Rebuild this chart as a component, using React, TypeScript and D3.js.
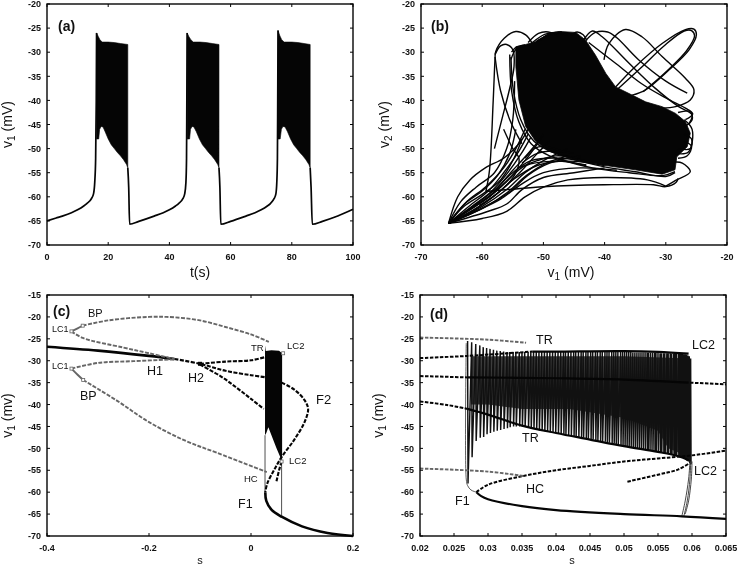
import React from "react";
import * as d3 from "d3";

type P = [number, number];

const aTicksX = [0, 20, 40, 60, 80, 100];
const vTicks50 = [-70, -65, -60, -55, -50, -45, -40, -35, -30, -25, -20];
const vTicks55 = [-70, -65, -60, -55, -50, -45, -40, -35, -30, -25, -20, -15];
const bTicksX = [-70, -60, -50, -40, -30, -20];
const cTicksX = [-0.4, -0.2, 0, 0.2];
const dTicksX = [0.02, 0.025, 0.03, 0.035, 0.04, 0.045, 0.05, 0.055, 0.06, 0.065];

// (a) membrane trace between bursts
const aQuiet: P[][] = [
  [[0, -65], [3, -64.4], [5, -64], [8, -63.3], [10, -62.7], [12, -61.9], [13, -61.4], [14.5, -60.4], [15.2, -59.4], [15.6, -57], [15.9, -52], [16.1, -40], [16.2, -26]],
  [[26.4, -54], [26.7, -58], [27, -65.7], [30, -65.1], [35, -64], [38, -63.3], [40, -62.7], [42, -61.9], [43, -61.4], [44.4, -60.4], [45, -59.4], [45.4, -57], [45.6, -52], [45.7, -40], [45.8, -26]],
  [[56.2, -54], [56.5, -58], [56.8, -65.7], [60, -65.1], [65, -64], [68, -63.3], [70, -62.7], [72, -61.9], [73, -61.4], [74.2, -60.4], [74.8, -59.4], [75.1, -57], [75.3, -52], [75.4, -40], [75.5, -25.5]],
  [[86, -54], [86.3, -58], [86.7, -65.7], [90, -65.1], [95, -64], [100, -62.6]],
];
// (a) bursts: upper and lower envelopes
const aUpper: P[][] = [
  [[16.2, -26], [16.8, -26.8], [17.3, -27.4], [18, -27.9], [20, -27.9], [22, -28], [24, -28.2], [26.4, -28.4]],
  [[45.8, -26], [46.4, -26.8], [47, -27.4], [47.8, -27.9], [50, -27.9], [52, -28], [54, -28.2], [56.2, -28.4]],
  [[75.5, -25.5], [76.1, -26.6], [76.7, -27.4], [77.5, -27.9], [80, -27.9], [82, -28], [84, -28.2], [86, -28.4]],
];
const aLower: P[][] = [
  [[16.2, -48], [16.9, -48], [17.2, -46], [17.7, -45.4], [18.3, -45.5], [19, -46.5], [20, -48], [21, -49.2], [22, -50], [23, -50.8], [24, -51.5], [25, -52.3], [26, -53.3], [26.4, -54]],
  [[45.8, -48], [46.6, -48], [46.9, -46], [47.4, -45.4], [48, -45.5], [48.8, -46.5], [49.8, -48], [50.8, -49.2], [51.8, -50], [52.8, -50.8], [53.8, -51.5], [54.8, -52.3], [55.8, -53.3], [56.2, -54]],
  [[75.5, -48], [76.2, -48], [76.6, -46], [77.1, -45.4], [77.8, -45.5], [78.6, -46.5], [79.6, -48], [80.6, -49.2], [81.6, -50], [82.6, -50.8], [83.6, -51.5], [84.6, -52.3], [85.6, -53.3], [86, -54]],
];

// (b) dense core of the phase portrait
const bCore: P[] = [[-54.5, -28.9], [-52.9, -28.4], [-51.2, -27.8], [-49.1, -26.1], [-47.4, -25.7], [-44.7, -25.9], [-43.1, -27.5], [-41.5, -30.6], [-39.8, -34.4], [-38.2, -37.2], [-35.5, -38.9], [-33.3, -40.3], [-30.6, -41.3], [-28.4, -42.7], [-26.8, -44.4], [-26, -46.8], [-26.5, -49.6], [-28.2, -51.7], [-28.5, -54.4], [-30.6, -55.3], [-35, -54.4], [-40.4, -53.4], [-45.8, -52], [-49, -50.6], [-51.3, -48.4], [-52.9, -45.4], [-54, -39.9], [-54.5, -33]];
const bFan: P[][] = [
  [[-65.5, -65.5], [-64, -60], [-62, -56.5], [-59.5, -54], [-56.5, -52], [-54, -49], [-52.5, -46]],
  [[-65.5, -65.5], [-63.5, -61], [-61, -58], [-58, -55], [-56, -50], [-55, -44], [-54.7, -36]],
  [[-65.5, -65.5], [-62.5, -61], [-59.5, -58], [-56.5, -54], [-54.5, -50], [-53, -46]],
  [[-65.5, -65.5], [-62, -61.8], [-59, -58.8], [-56.5, -55], [-54, -50.5], [-52.5, -47]],
  [[-65.5, -65.5], [-61.6, -61.9], [-58.6, -59], [-56, -55.3], [-53.6, -51], [-52, -47.5]],
  [[-65.5, -65.5], [-61, -61.5], [-57.5, -58], [-55, -54.5], [-52.5, -51], [-50.5, -48]],
  [[-65.5, -65.5], [-60.5, -61.5], [-57, -58], [-54, -54], [-51.5, -50], [-50, -47]],
  [[-65.5, -65.5], [-60.3, -61.9], [-56.7, -58.4], [-53.5, -54.5], [-51, -51], [-49, -48.5]],
  [[-65.5, -65.5], [-60, -62], [-56, -58.5], [-53, -55], [-50, -52.5], [-46, -50]],
  [[-65.5, -65.5], [-59.8, -62.3], [-55.8, -59], [-52.8, -55.6], [-49.5, -53], [-46, -51.5]],
  [[-65.5, -65.5], [-59.5, -62], [-55.5, -59], [-52.5, -55.5], [-49, -53], [-44, -51.5]],
  [[-65.5, -65.5], [-59, -63], [-56, -61.5], [-53.5, -58.5], [-50, -56], [-45, -55], [-40, -54]],
  [[-65.5, -65.5], [-60, -64.5], [-56, -63], [-53, -60], [-50, -58], [-46, -56.5], [-40, -56], [-33, -56.5], [-30, -57.8]],
  [[-65.5, -65.5], [-61, -63], [-57, -60.5], [-53.5, -57.3], [-50, -55], [-44, -54], [-38, -54.5]],
  [[-65.5, -65.5], [-61.5, -62.8], [-58, -59.8], [-55, -56.5], [-51, -53.5], [-46, -52.6], [-40, -53.5]],
  [[-65.5, -65.5], [-62, -62.5], [-58.5, -59.5], [-55.5, -55.5], [-52, -52.5], [-47, -52], [-42, -53]],
  [[-65.5, -65.5], [-62.3, -62.8], [-59, -60.2], [-56, -56.8], [-53, -53.6], [-48, -52.6], [-43, -53.4]],
  [[-65.5, -65.5], [-63, -62], [-60, -59.5], [-57, -56.5], [-54.8, -52], [-53.5, -48]],
  [[-65.5, -65.5], [-62.8, -61.4], [-60, -58.8], [-57.5, -55.6], [-55.5, -51], [-54.5, -46]],
  [[-60.5, -61.8], [-58.5, -60.2], [-56.5, -58.2], [-54.5, -55], [-54, -52], [-55, -50], [-56.5, -46]],
  [[-59.4, -58.9], [-55, -58.4], [-50, -57.9], [-40, -57.5], [-32, -57.5], [-30, -57.9], [-28.3, -57], [-28, -56.2]],
  [[-54, -54], [-51, -52.5], [-48, -51.5], [-44, -52]],
  [[-53.5, -53], [-51, -51], [-48.5, -50.5], [-45, -51]],
  [[-53, -52], [-51.5, -50], [-50, -49.5], [-47, -50.5]],
];
const bLoops: P[][] = [
  [[-59.4, -58.9], [-58.8, -54.4], [-58.2, -40], [-57.9, -31.3], [-57.8, -29.9], [-56.4, -27.1], [-54.5, -25.7], [-52.9, -26.4], [-51.8, -28.2]],
  [[-57.9, -30.5], [-57, -28.7], [-56, -28.4], [-55, -29.5], [-54.8, -33], [-55.6, -38], [-56.6, -43], [-58, -50]],
  [[-57.9, -31], [-57, -38], [-55.5, -44], [-53.5, -49]],
  [[-55.3, -31], [-54.9, -38], [-53.7, -44], [-51.5, -48.5], [-48, -51], [-42, -52.8]],
  [[-55.5, -30.5], [-55.2, -38], [-54, -44.5], [-52, -49], [-49, -51.5], [-43, -53.5]],
  [[-55.2, -30], [-54.5, -29], [-53, -28.5]],
  [[-55.3, -31.5], [-54.4, -29.3], [-53, -28.7]],
  [[-52.5, -28], [-50.8, -26.1], [-49.2, -25.8], [-47.6, -26.6]],
  [[-51.8, -28], [-49.8, -26.3], [-48, -25.9], [-46, -26.5]],
  [[-51.2, -27.8], [-49.5, -26.6], [-47, -25.9]],
  [[-50.5, -27.5], [-49, -26.2], [-47, -25.8]],
  [[-45.5, -26.5], [-44.5, -25.8], [-43.5, -26.4], [-42.9, -27.6]],
  [[-38.2, -37.2], [-35, -33], [-30.6, -28.2], [-26.8, -25.3], [-25.4, -25.2], [-25, -26.4], [-26.2, -29.5], [-29.5, -33.7], [-33.3, -37.8], [-35.5, -38.9]],
  [[-37.8, -37.6], [-34.1, -33.3], [-30.3, -28.7], [-27, -25.6], [-25.8, -25.5], [-25.3, -26.6], [-26.6, -29.7], [-29.9, -34], [-33.7, -38.2]],
  [[-40.1, -31.6], [-39.3, -28.2], [-36.6, -25.3], [-33.9, -26.8], [-30.6, -30.9], [-26.8, -35.4], [-25.4, -37.8], [-26, -39.9], [-28.4, -41.3], [-30.6, -41.6]],
  [[-43.6, -27.8], [-42, -25.6], [-40.4, -26.8], [-36, -32.3], [-31.7, -37.5], [-27.9, -41.3], [-25.7, -43], [-26.2, -44.8]],
  [[-43, -27.5], [-41.5, -25.9], [-39.5, -25.8], [-38, -27], [-34.5, -31.5], [-30, -36], [-26.5, -38.5]],
  [[-42.6, -28], [-38, -32.5], [-34, -36.5], [-30, -39.5], [-26.5, -41.8], [-25.6, -42.8], [-26.8, -44]],
  [[-28, -42.5], [-26, -42.3], [-25.7, -44], [-27, -45.5]],
  [[-28, -50], [-26, -50], [-25.8, -48], [-27, -47]],
  [[-28, -52], [-26.5, -51.5], [-25.8, -49.5], [-27, -48.5]],
  [[-28.5, -51], [-26.3, -50.7], [-25.7, -46], [-27, -44]],
  [[-30, -57.8], [-28.4, -56.6], [-26, -54.8], [-27.3, -53], [-28.5, -52.8]],
  [[-45, -52.3], [-40, -53.8], [-35, -54.8], [-30, -55.8], [-28.5, -55]],
  [[-48, -52], [-42, -54], [-36, -55], [-30.5, -55.6], [-28.5, -54.8]],
];

// (c) continuation branches
const cStable: P[][] = [
  [[-0.4, -26.8], [-0.3, -27.7], [-0.2, -28.9], [-0.15, -29.6]],
  [[0.028, -60], [0.03, -62], [0.04, -64], [0.06, -65.6], [0.1, -67.8], [0.15, -69.3], [0.2, -70]],
];
const cUnstable: P[][] = [
  [[-0.1, -30.7], [-0.05, -30.2], [0, -29.9], [0.03, -29.1]],
  [[-0.15, -29.6], [-0.1, -30.7], [-0.05, -32.3], [0, -33.3], [0.03, -33.8]],
  [[0.06, -35], [0.085, -36.6], [0.105, -39], [0.112, -41], [0.105, -44], [0.085, -48], [0.06, -52], [0.045, -55], [0.032, -58], [0.028, -60]],
  [[-0.1, -30.9], [-0.06, -33.5], [-0.03, -36], [0, -38.7], [0.025, -41]],
  [[0.06, -53], [0.055, -55], [0.05, -57.5]],
];
const cCycles: P[][] = [
  [[-0.33, -22], [-0.28, -20.8], [-0.2, -20], [-0.15, -20.1], [-0.1, -20.8], [-0.05, -22.3], [0, -24], [0.035, -25.7]],
  [[-0.352, -23.3], [-0.33, -24.8], [-0.25, -27], [-0.2, -28.3], [-0.15, -29.6]],
  [[-0.352, -31.8], [-0.3, -30.5], [-0.23, -30.1], [-0.15, -29.7]],
  [[-0.329, -34.4], [-0.263, -39.1], [-0.2, -44], [-0.13, -48.2], [-0.067, -51], [0.031, -55.4]],
];
const cCycleSolid: P[][] = [
  [[-0.352, -23.3], [-0.34, -22.6], [-0.33, -22]],
  [[-0.352, -31.8], [-0.34, -33.2], [-0.329, -34.4]],
];
const cBurst: P[] = [[0.0275, -26.5], [0.029, -27.8], [0.04, -27.6], [0.055, -27.7], [0.061, -28.3], [0.061, -52], [0.059, -52.4], [0.05, -50], [0.034, -45.2], [0.03, -46.5], [0.0275, -47]];
const cThin: P[][] = [
  [[0.0275, -47], [0.0275, -60]],
  [[0.06, -52], [0.06, -65.5]],
];
const cMarks: P[] = [[-0.352, -23.3], [-0.33, -22], [-0.352, -31.8], [-0.329, -34.4], [0.063, -28.3], [0.06, -53]];

// (d) zoomed branches
const dSpikeS = [27.0, 27.6, 28.2, 28.8, 29.3, 29.8, 30.3, 30.8, 31.3, 31.8, 32.3, 32.8, 33.2, 33.7, 34.1, 34.6, 35.0, 35.4, 35.9, 36.3, 36.7, 37.1, 37.5, 37.9, 38.3, 38.7, 39.1, 39.5, 39.9, 40.3, 40.7, 41.1, 41.4, 41.8, 42.2, 42.6, 42.9, 43.3, 43.7, 44.0, 44.4, 44.7, 45.1, 45.4, 45.8, 46.1, 46.5, 46.8, 47.2, 47.5, 47.8, 48.2, 48.5, 48.8, 49.1, 49.5, 49.8, 50.1, 50.4, 50.7, 51.0, 51.3, 51.6, 51.9, 52.2, 52.5, 52.8, 53.1, 53.4, 53.6, 53.9, 54.2, 54.5, 54.7, 55.0, 55.3, 55.5, 55.8, 56.0, 56.3, 56.5, 56.8, 57.0, 57.3, 57.5, 57.7, 58.0, 58.2, 58.4, 58.6, 58.8, 59.0, 59.2, 59.4, 59.6, 59.8];
const dSpikeTop = [-25.5, -25.8, -26.2, -26.5, -26.9, -27.1, -27.3, -27.5, -27.7, -27.8, -27.9, -28, -28, -28, -28, -28, -28, -28, -28, -28, -28, -28, -28, -28, -28, -28, -28, -28, -28, -28, -28, -28, -28, -28, -28, -28, -28, -28, -28, -28, -28, -28, -28, -28, -28, -28, -28, -28, -28, -28, -28, -28, -28, -28, -28, -28, -28, -28, -28, -28, -28, -28.1, -28.1, -28.1, -28.1, -28.1, -28.1, -28.1, -28.2, -28.2, -28.2, -28.2, -28.2, -28.2, -28.2, -28.3, -28.3, -28.3, -28.3, -28.3, -28.3, -28.3, -28.4, -28.4, -28.4, -28.4, -28.4, -28.4, -28.4, -28.4, -28.5, -28.5, -28.6, -28.8, -29, -29.5];
const dSpikeBottom = [-58, -52, -48.3, -47.6, -47.4, -46.8, -46.5, -46.2, -46, -45.8, -45.6, -45.4, -45.2, -45, -45, -45, -45, -45.1, -45.3, -45.5, -45.6, -45.8, -45.9, -46, -46.1, -46.2, -46.3, -46.4, -46.5, -46.6, -46.7, -46.8, -46.9, -47, -47.1, -47.2, -47.3, -47.4, -47.5, -47.6, -47.7, -47.8, -47.9, -48, -48.1, -48.2, -48.3, -48.4, -48.5, -48.6, -48.7, -48.8, -48.9, -49, -49.1, -49.3, -49.4, -49.5, -49.6, -49.7, -49.7, -49.8, -49.9, -50, -50, -50.1, -50.2, -50.3, -50.4, -50.4, -50.5, -50.6, -50.7, -50.7, -50.8, -50.9, -51, -51, -51.1, -51.2, -51.3, -51.4, -51.5, -51.6, -51.6, -51.7, -51.8, -51.9, -52, -52.1, -52.3, -52.5, -52.8, -53, -53.3, -53.6];
const dDense: P[] = [[0.0275, -29], [0.035, -29], [0.05, -29], [0.0597, -29.5], [0.0597, -52], [0.0565, -50], [0.055, -46], [0.05, -43], [0.042, -41], [0.035, -41], [0.03, -40], [0.0275, -40]];
const dThick: P[][] = [
  [[0.0283, -60], [0.029, -60.9], [0.03, -61.6], [0.035, -63.2], [0.04, -64.1], [0.05, -65], [0.0585, -65.5], [0.065, -66.1]],
  [[0.027, -41], [0.03, -42.3], [0.035, -44.8], [0.04, -46.5], [0.045, -48], [0.05, -49.5], [0.055, -50.8], [0.058, -51.8], [0.0595, -52.7]],
  [[0.0365, -27.9], [0.04, -27.9], [0.05, -27.8], [0.055, -28], [0.0595, -28.4]],
  [[0.027, -33.8], [0.04, -34], [0.05, -34.3], [0.0595, -35]],
];
const dDashed: P[][] = [
  [[0.02, -29.4], [0.027, -28.9], [0.0365, -27.9]],
  [[0.02, -33.5], [0.027, -33.8]],
  [[0.0597, -35], [0.065, -35.4]],
  [[0.02, -39.3], [0.024, -40.1], [0.027, -41]],
  [[0.0283, -60], [0.03, -58.3], [0.0352, -56.3], [0.04, -55], [0.045, -54], [0.05, -53], [0.055, -52.3], [0.06, -51.6], [0.065, -50.5]],
  [[0.0505, -57.6], [0.055, -56], [0.058, -54.8], [0.0597, -53.3]],
];
const dGray: P[][] = [
  [[0.02, -24.7], [0.03, -25.2], [0.0356, -25.9]],
  [[0.02, -54.6], [0.03, -55.3], [0.0352, -56.3]],
];
const dThin: P[][] = [
  [[0.0268, -26], [0.0268, -57], [0.027, -58.5], [0.0275, -59.5], [0.0283, -60]],
];
const dReturn: P[][] = [
  [[0.0585, -65.5], [0.059, -62], [0.0595, -57], [0.0597, -53]],
  [[0.0588, -65.5], [0.0593, -62], [0.0597, -57], [0.0598, -53]],
  [[0.059, -65], [0.0595, -62], [0.0599, -57], [0.06, -53]],
];

const FONT = "'Liberation Sans', Arial, sans-serif";
const BLACK = "#050505";
const GRAY = "#666";

function lineOf(x: d3.ScaleLinear<number, number>, y: d3.ScaleLinear<number, number>, smooth = true) {
  const l = d3.line<P>().x((d) => x(d[0])).y((d) => y(d[1]));
  if (smooth) l.curve(d3.curveCatmullRom.alpha(0.5));
  return l;
}

function Frame(props: {
  x: d3.ScaleLinear<number, number>;
  y: d3.ScaleLinear<number, number>;
  xTicks: number[];
  yTicks: number[];
  xTitle: React.ReactNode;
  yTitle: React.ReactNode;
  letter: string;
  letterX: number;
  letterY: number;
  titleX: number;
  xFmt?: (v: number) => string;
  xTitleSize?: number;
  xTitleY: number;
  yTitleX: number;
  children?: React.ReactNode;
}) {
  const { x, y, xTicks, yTicks } = props;
  const [x0, x1] = x.range();
  const [y0, y1] = y.range();
  const fmt = props.xFmt || ((v: number) => String(v));
  const t = 3;
  return (
    <g fontFamily={FONT} fill="#111">
      {props.children}
      <rect x={x0} y={y1} width={x1 - x0} height={y0 - y1} fill="none" stroke={BLACK} strokeWidth={1.4} />
      {xTicks.map((v) => (
        <g key={v}>
          <path d={`M${x(v)},${y0}v${-t}M${x(v)},${y1}v${t}`} stroke={BLACK} strokeWidth={1} />
          <text x={x(v)} y={y0 + 15} fontSize={9} fontWeight="bold" textAnchor="middle">{fmt(v)}</text>
        </g>
      ))}
      {yTicks.map((v) => (
        <g key={v}>
          <path d={`M${x0},${y(v)}h${t}M${x1},${y(v)}h${-t}`} stroke={BLACK} strokeWidth={1} />
          <text x={x0 - 6} y={y(v) + 3.2} fontSize={9} fontWeight="bold" textAnchor="end">{v}</text>
        </g>
      ))}
      <text x={props.titleX} y={props.xTitleY} fontSize={props.xTitleSize || 14} textAnchor="middle">{props.xTitle}</text>
      <text transform={`translate(${props.yTitleX},${(y0 + y1) / 2}) rotate(-90)`} fontSize={14} textAnchor="middle">{props.yTitle}</text>
      <text x={props.letterX} y={props.letterY} fontSize={14} fontWeight="bold">{props.letter}</text>
    </g>
  );
}

function Sub(props: { head: string; sub: string; tail: string }) {
  return (
    <>
      {props.head}
      <tspan fontSize={10} dy={3}>{props.sub}</tspan>
      <tspan dy={-3}>{props.tail}</tspan>
    </>
  );
}

function PanelA() {
  const x = d3.scaleLinear().domain([0, 100]).range([47, 353]);
  const y = d3.scaleLinear().domain([-70, -20]).range([245, 4]);
  const l = lineOf(x, y, false);
  const q = d3.line<P>().x((d) => x(d[0])).y((d) => y(d[1])).curve(d3.curveMonotoneX);
  return (
    <Frame x={x} y={y} xTicks={aTicksX} yTicks={vTicks50} xTitle="t(s)" yTitle={<Sub head="v" sub="1" tail=" (mV)" />} letter="(a)" letterX={58} letterY={31} titleX={200} xTitleY={277} yTitleX={12}>
      {aUpper.map((u, i) => (
        <path key={i} d={l([...u, ...[...aLower[i]].reverse()]) + "Z"} fill={BLACK} stroke={BLACK} strokeWidth={0.6} />
      ))}
      {aQuiet.map((c, i) => (
        <path key={i} d={q(c) || ""} fill="none" stroke={BLACK} strokeWidth={1.7} />
      ))}
    </Frame>
  );
}

function PanelB() {
  const x = d3.scaleLinear().domain([-70, -20]).range([421, 727]);
  const y = d3.scaleLinear().domain([-70, -20]).range([245, 4]);
  const l = lineOf(x, y);
  const poly = lineOf(x, y, false);
  return (
    <Frame x={x} y={y} xTicks={bTicksX} yTicks={vTicks50} xTitle={<Sub head="v" sub="1" tail=" (mV)" />} yTitle={<Sub head="v" sub="2" tail=" (mV)" />} letter="(b)" letterX={431} letterY={31} titleX={571} xTitleY={277} yTitleX={389}>
      <path d={poly(bCore) + "Z"} fill={BLACK} stroke={BLACK} strokeWidth={0.8} />
      {[...bFan, ...bLoops].map((c, i) => (
        <path key={i} d={l(c) || ""} fill="none" stroke={BLACK} strokeWidth={1.4} />
      ))}
    </Frame>
  );
}

function PanelC() {
  const x = d3.scaleLinear().domain([-0.4, 0.2]).range([47, 353]);
  const y = d3.scaleLinear().domain([-70, -15]).range([536, 295]);
  const l = lineOf(x, y);
  const poly = lineOf(x, y, false);
  return (
    <Frame x={x} y={y} xTicks={cTicksX} yTicks={vTicks55} xTitle="s" yTitle={<Sub head="v" sub="1" tail=" (mv)" />} letter="(c)" letterX={53} letterY={316} titleX={200} xTitleY={564} xTitleSize={11} yTitleX={12}>
      <path d={poly(cBurst) + "Z"} fill={BLACK} />
      {cThin.map((c, i) => <path key={i} d={poly(c) || ""} stroke="#222" strokeWidth={0.8} fill="none" />)}
      {cStable.map((c, i) => <path key={i} d={l(c) || ""} stroke={BLACK} strokeWidth={2.6} fill="none" />)}
      {cUnstable.map((c, i) => <path key={i} d={l(c) || ""} stroke={BLACK} strokeWidth={2.1} strokeDasharray="4 1.5" fill="none" />)}
      {cCycles.map((c, i) => <path key={i} d={l(c) || ""} stroke={GRAY} strokeWidth={1.9} strokeDasharray="4 1.5" fill="none" />)}
      {cCycleSolid.map((c, i) => <path key={i} d={l(c) || ""} stroke={GRAY} strokeWidth={1.9} fill="none" />)}
      {cMarks.map((m, i) => <rect key={i} x={x(m[0]) - 1.5} y={y(m[1]) - 1.5} width={3} height={3} fill="#fff" stroke={GRAY} strokeWidth={0.8} />)}
      <rect x={x(-0.1) - 2} y={y(-30.7) - 2} width={4} height={4} fill={BLACK} />
      <g fill="#111">
        <text x={88} y={317} fontSize={11}>BP</text>
        <text x={52} y={332} fontSize={9}>LC1</text>
        <text x={52} y={369} fontSize={9}>LC1</text>
        <text x={147} y={375} fontSize={12.5}>H1</text>
        <text x={188} y={382} fontSize={12.5}>H2</text>
        <text x={80} y={400} fontSize={12.5}>BP</text>
        <text x={251} y={351} fontSize={9.5}>TR</text>
        <text x={287} y={349} fontSize={9.5}>LC2</text>
        <text x={316} y={404} fontSize={13}>F2</text>
        <text x={289} y={464} fontSize={9.5}>LC2</text>
        <text x={244} y={482} fontSize={9.5}>HC</text>
        <text x={238} y={508} fontSize={12.5}>F1</text>
      </g>
    </Frame>
  );
}

function PanelD() {
  const x = d3.scaleLinear().domain([0.02, 0.065]).range([420, 726]);
  const y = d3.scaleLinear().domain([-70, -15]).range([536, 295]);
  const l = lineOf(x, y);
  const poly = lineOf(x, y, false);
  const zig = dSpikeS.flatMap((s, i) => {
    const v = s / 1000;
    const top: P = [v, dSpikeTop[i]];
    const bottom: P = [v + 0.00006, dSpikeBottom[i]];
    return [top, bottom];
  });
  return (
    <Frame x={x} y={y} xTicks={dTicksX} yTicks={vTicks55} xFmt={(v) => d3.format(".3~f")(v)} xTitle="s" yTitle={<Sub head="v" sub="1" tail=" (mv)" />} letter="(d)" letterX={430} letterY={319} titleX={572} xTitleY={564} xTitleSize={11} yTitleX={383}>
      <path d={poly(dDense) + "Z"} fill="#1a1a1a" opacity={0.85} />
      <path d={poly(zig) || ""} fill="none" stroke="#111" strokeWidth={1.45} strokeLinejoin="miter" />
      {dThin.map((c, i) => <path key={i} d={l(c) || ""} stroke="#333" strokeWidth={0.8} fill="none" />)}
      {dReturn.map((c, i) => <path key={i} d={l(c) || ""} stroke="#333" strokeWidth={0.9} fill="none" />)}
      {dThick.map((c, i) => <path key={i} d={l(c) || ""} stroke={BLACK} strokeWidth={2.2} fill="none" />)}
      {dDashed.map((c, i) => <path key={i} d={l(c) || ""} stroke={BLACK} strokeWidth={2} strokeDasharray="3.5 1.5" fill="none" />)}
      {dGray.map((c, i) => <path key={i} d={l(c) || ""} stroke={GRAY} strokeWidth={1.9} strokeDasharray="3.5 1.5" fill="none" />)}
      <g fill="#111">
        <text x={536} y={344} fontSize={12.5}>TR</text>
        <text x={692} y={349} fontSize={12.5}>LC2</text>
        <text x={522} y={442} fontSize={12.5}>TR</text>
        <text x={694} y={475} fontSize={12.5}>LC2</text>
        <text x={526} y={493} fontSize={12.5}>HC</text>
        <text x={455} y={505} fontSize={12.5}>F1</text>
      </g>
    </Frame>
  );
}

export default function App() {
  return (
    <svg width={738} height={568} viewBox="0 0 738 568" style={{ position: "absolute", left: 0, top: 0, background: "#fff", filter: "blur(0.45px)" }}>
      <PanelA />
      <PanelB />
      <PanelC />
      <PanelD />
    </svg>
  );
}
